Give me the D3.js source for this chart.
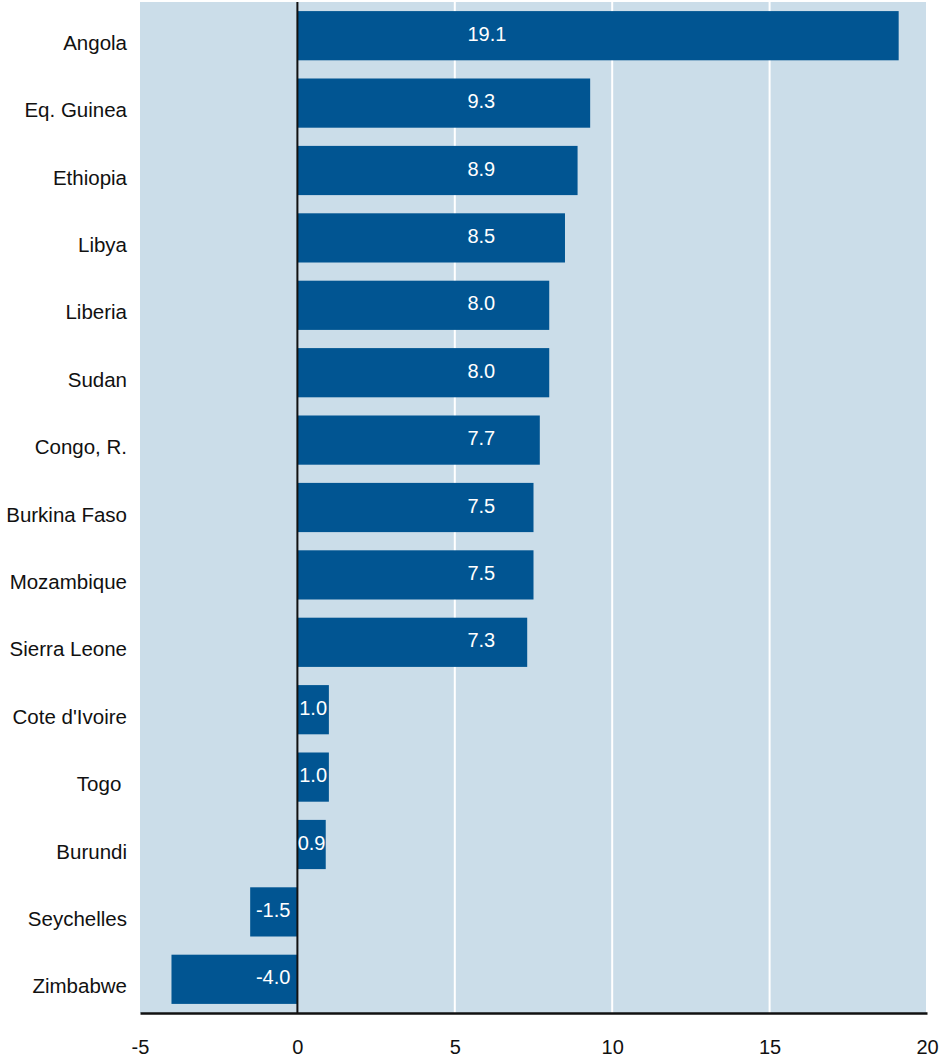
<!DOCTYPE html>
<html>
<head>
<meta charset="utf-8">
<script src="https://cdn.jsdelivr.net/npm/d3@7"></script>
<style>
  body { margin: 0; background: white; }
  text { font-family: "Liberation Sans", Arial, Helvetica, sans-serif; }
</style>
</head>
<body>
<script>
// Data
const countries = ["Angola", "Eq. Guinea", "Ethiopia", "Libya", "Liberia", "Sudan", "Congo, R.",
  "Burkina Faso", "Mozambique", "Sierra Leone", "Cote d'Ivoire", "Togo ", "Burundi", "Seychelles", "Zimbabwe"];
const values = [19.1, 9.3, 8.9, 8.5, 8.0, 8.0, 7.7, 7.5, 7.5, 7.3, 1.0, 1.0, 0.9, -1.5, -4.0];
const xTicks = [-5, 0, 5, 10, 15, 20];

const width = 939, height = 1059;
const marginTop = 2, marginRight = 12, marginBottom = 46, marginLeft = 140;

const data = countries.map((c, i) => ({country: c, value: values[i]}));

const x = d3.scaleLinear()
    .domain([-5, 20])
    .range([marginLeft, width - marginRight]);

const y = d3.scaleBand()
    .domain(countries)
    .range([marginTop, height - marginBottom])
    .paddingInner(0.27)
    .paddingOuter(0.135);

const svg = d3.select("body")
    .append("svg")
    .attr("width", width)
    .attr("height", height)
    .style("display", "block");

// plot background
svg.append("rect")
    .attr("x", x(-5))
    .attr("y", marginTop)
    .attr("width", x(20) - x(-5))
    .attr("height", height - marginBottom - marginTop)
    .attr("fill", "#cbdde9");

// white gridlines
svg.append("g")
    .selectAll("line")
    .data(xTicks.filter(d => d > 0))
    .join("line")
    .attr("x1", d => x(d))
    .attr("x2", d => x(d))
    .attr("y1", marginTop)
    .attr("y2", height - marginBottom)
    .attr("stroke", "white")
    .attr("stroke-width", 2);

// bars
svg.append("g")
    .selectAll("rect")
    .data(data)
    .join("rect")
    .attr("x", d => x(Math.min(0, d.value)))
    .attr("y", d => y(d.country))
    .attr("width", d => Math.abs(x(d.value) - x(0)))
    .attr("height", y.bandwidth())
    .attr("fill", "#015592");

// zero line
svg.append("line")
    .attr("x1", x(0))
    .attr("x2", x(0))
    .attr("y1", marginTop)
    .attr("y2", height - marginBottom)
    .attr("stroke", "#111")
    .attr("stroke-width", 2);

// bottom axis
const xAxis = svg.append("g")
    .attr("transform", `translate(0,${height - marginBottom})`)
    .call(d3.axisBottom(x).tickValues(xTicks).tickFormat(d => String(d)).tickSize(0).tickPadding(27));
xAxis.select(".domain").attr("stroke", "#111").attr("stroke-width", 2.5);
xAxis.selectAll("text")
    .attr("font-size", 20)
    .attr("fill", "#111")
    .style("font-family", "'Liberation Sans', Arial, sans-serif");

// country labels
svg.append("g")
    .selectAll("text")
    .data(data)
    .join("text")
    .attr("x", 127)
    .attr("y", d => y(d.country) + y.bandwidth() / 2 + 7)
    .attr("dy", "0.35em")
    .attr("text-anchor", "end")
    .attr("font-size", 20.5)
    .attr("fill", "#111")
    .style("white-space", "pre")
    .text(d => d.country);

// value labels
svg.append("g")
    .selectAll("text")
    .data(data)
    .join("text")
    .attr("x", d => d.value < 0 ? x(0) - 7 : (d.value > 5.5 ? x(5.4) : x(d.value / 2)))
    .attr("y", d => y(d.country) + y.bandwidth() / 2 - 2)
    .attr("dy", "0.35em")
    .attr("text-anchor", d => d.value < 0 ? "end" : (d.value > 5.5 ? "start" : "middle"))
    .attr("font-size", 20)
    .attr("fill", "white")
    .text(d => d.value.toFixed(1));
</script>
</body>
</html>
